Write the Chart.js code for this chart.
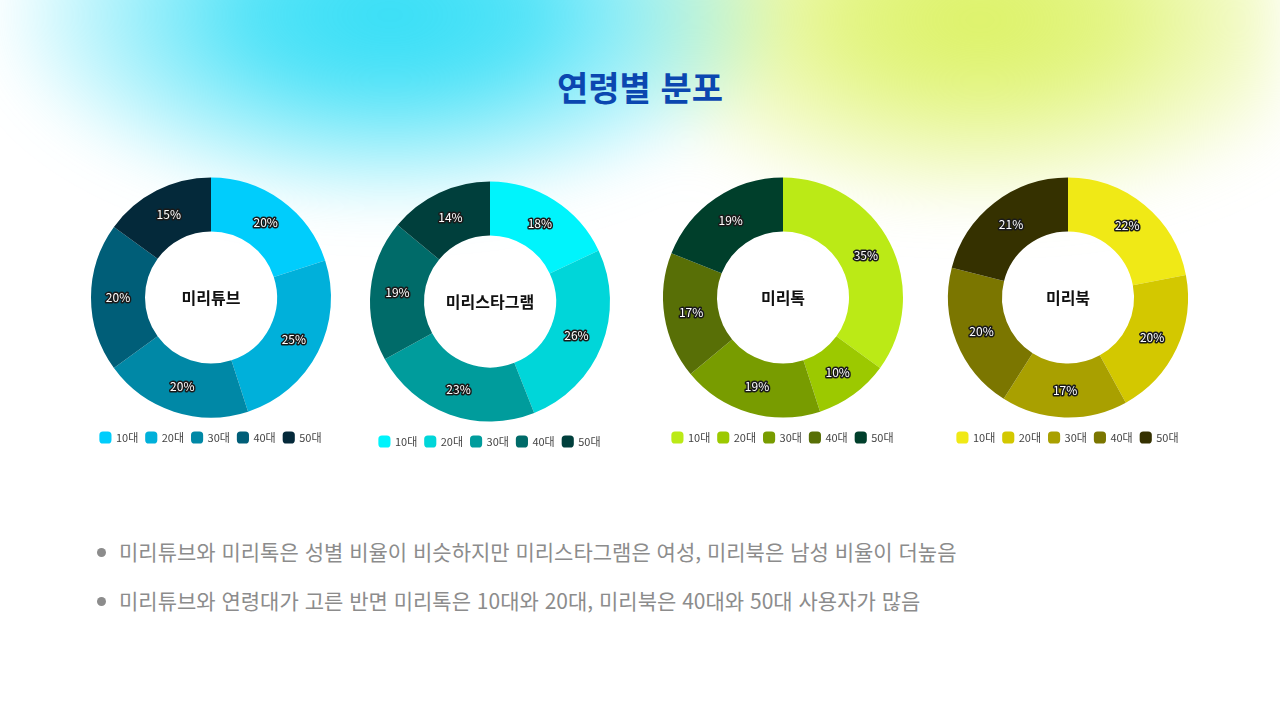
<!DOCTYPE html>
<html lang="ko">
<head>
<meta charset="utf-8">
<title>연령별 분포</title>
<script src="https://cdn.jsdelivr.net/npm/chart.js@4.4.1/dist/chart.umd.min.js"></script>
<style>
  html, body { margin: 0; padding: 0; }
  body {
    width: 1280px; height: 720px; overflow: hidden; position: relative;
    background: #fff; font-family: "Noto Sans CJK KR", "Noto Sans", sans-serif;
  }
  .glow {
    position: absolute; left: 0; top: -80px; width: 1280px; height: 290px;
    background:
      radial-gradient(ellipse 400px 200px at 390px 95px, rgba(52,222,246,1) 0%, rgba(52,222,246,0.85) 35%, rgba(52,222,246,0) 100%),
      radial-gradient(ellipse 380px 200px at 980px 100px, rgba(220,242,100,1) 0%, rgba(220,242,100,0.8) 35%, rgba(220,242,100,0) 100%);
    filter: blur(26px);
  }
  h1 {
    position: absolute; left: 0; top: 62px; width: 1280px; margin: 0;
    text-align: center; font-size: 34px; font-weight: 700; color: #0b47b0;
    line-height: 50px;
  }
  .box { position: absolute; width: 270px; height: 282px; }
  ul {
    position: absolute; left: 96px; top: 532px; margin: 0; padding: 0; list-style: none;
    color: #8c8c8c; font-size: 21px;
  }
  li { position: relative; padding-left: 23px; height: 49px; line-height: 38px; }
  li::before {
    content: ""; position: absolute; left: 1px; top: 16px; width: 9px; height: 9px;
    border-radius: 50%; background: #8c8c8c;
  }
</style>
</head>
<body>
<div class="glow"></div>
<h1>연령별 분포</h1>

<div class="box" style="left:76px;top:171px"><canvas id="c1"></canvas></div>
<div class="box" style="left:355px;top:175px"><canvas id="c2"></canvas></div>
<div class="box" style="left:648px;top:171px"><canvas id="c3"></canvas></div>
<div class="box" style="left:933px;top:171px"><canvas id="c4"></canvas></div>

<ul>
  <li>미리튜브와 미리톡은 성별 비율이 비슷하지만 미리스타그램은 여성, 미리북은 남성 비율이 더높음</li>
  <li>미리튜브와 연령대가 고른 반면 미리톡은 10대와 20대, 미리북은 40대와 50대 사용자가 많음</li>
</ul>

<script>
// 데이터
const ageLabels = ['10대', '20대', '30대', '40대', '50대'];
const serviceNames = ['미리튜브', '미리스타그램', '미리톡', '미리북'];
const tubeValues = [20, 25, 20, 20, 15];
const instaValues = [18, 26, 23, 19, 14];
const talkValues = [35, 10, 19, 17, 19];
const bookValues = [22, 20, 17, 20, 21];

// 색상
const tubeColors = ['#00cdfc', '#00b0da', '#0088a6', '#005e78', '#04293a'];
const instaColors = ['#00f4fc', '#00d6d9', '#009c9c', '#006b69', '#003f3c'];
const talkColors = ['#bbea16', '#9cc900', '#789c00', '#586f06', '#003f2b'];
const bookColors = ['#f0e916', '#d3c800', '#a9a000', '#7b7600', '#353100'];

const font = '"Noto Sans CJK KR", "Noto Sans", sans-serif';

// 조각 위 퍼센트 + 가운데 이름
const doughnutText = {
  id: 'doughnutText',
  afterDatasetsDraw(chart, args, opts) {
    const ctx = chart.ctx;
    const meta = chart.getDatasetMeta(0);
    const values = chart.data.datasets[0].data;
    ctx.save();
    ctx.textAlign = 'center';
    ctx.textBaseline = 'middle';
    ctx.font = '12px ' + font;
    ctx.lineJoin = 'round';
    meta.data.forEach((arc, i) => {
      const p = arc.tooltipPosition();
      ctx.lineWidth = 3;
      ctx.strokeStyle = '#1a1a1a';
      ctx.strokeText(values[i] + '%', p.x, p.y);
      ctx.fillStyle = '#ffffff';
      ctx.fillText(values[i] + '%', p.x, p.y);
    });
    const a = chart.chartArea;
    ctx.font = 'bold 16px ' + font;
    ctx.fillStyle = '#111111';
    ctx.fillText(opts.name, (a.left + a.right) / 2, (a.top + a.bottom) / 2);
    ctx.restore();
  }
};

function drawDoughnut(id, name, values, colors) {
  return new Chart(document.getElementById(id), {
    type: 'doughnut',
    data: {
      labels: ageLabels,
      datasets: [{
        data: values,
        backgroundColor: colors,
        borderWidth: 0,
        radius: 120,
        cutout: '55%'
      }]
    },
    options: {
      responsive: true,
      maintainAspectRatio: false,
      animation: false,
      layout: { padding: 0 },
      plugins: {
        tooltip: { enabled: false },
        doughnutText: { name },
        legend: {
          position: 'bottom',
          labels: {
            usePointStyle: true,
            pointStyle: 'rectRounded',
            boxWidth: 10,
            boxHeight: 10,
            padding: 8,
            color: '#444',
            font: { size: 11, family: font }
          }
        }
      }
    },
    plugins: [doughnutText]
  });
}

drawDoughnut('c1', serviceNames[0], tubeValues, tubeColors);
drawDoughnut('c2', serviceNames[1], instaValues, instaColors);
drawDoughnut('c3', serviceNames[2], talkValues, talkColors);
drawDoughnut('c4', serviceNames[3], bookValues, bookColors);
</script>
</body>
</html>
